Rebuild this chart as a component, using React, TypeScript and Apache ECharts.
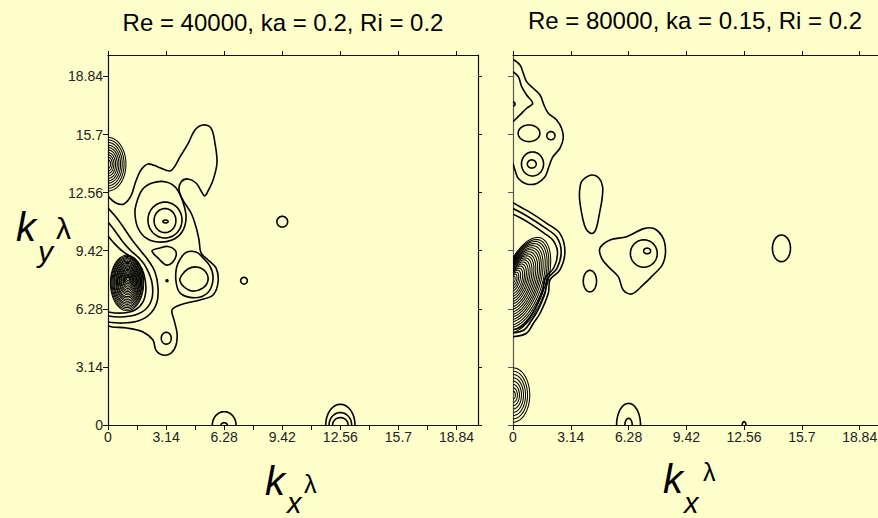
import { useEffect, useRef } from "react";
import * as echarts from "echarts";

type Pt = [number, number];

// ---------- ticks ----------
const majorTicks = [0, 3.14, 6.28, 9.42, 12.56, 15.7, 18.84];
const minorTicks = [0, 1.57, 3.14, 4.71, 6.28, 7.85, 9.42, 10.99, 12.56, 14.13, 15.7, 17.27, 18.84];
const tickLabels = ["0", "3.14", "6.28", "9.42", "12.56", "15.7", "18.84"];

const leftTitle = "Re = 40000, ka = 0.2, Ri = 0.2";
const rightTitle = "Re = 80000, ka = 0.15, Ri = 0.2";

// ---------- left panel contours (data units) ----------
const leftOuterContour: Pt[] = [
  [0, 12.38], [0.43, 12.0], [0.86, 11.95], [1.24, 12.38], [1.51, 13.19], [1.78, 13.78], [2.16, 14.11],
  [2.7, 13.95], [3.35, 13.73], [3.62, 14.0], [3.89, 14.49], [4.32, 15.19], [4.7, 15.95], [5.14, 16.22],
  [5.57, 16.05], [5.78, 15.24], [5.89, 14.16], [5.68, 13.24], [5.41, 12.65], [5.22, 12.38], [5.03, 12.65],
  [4.76, 13.08], [4.32, 13.3], [3.95, 13.14], [3.84, 12.7], [4.05, 12.16], [4.49, 11.46], [4.76, 10.7],
  [4.92, 10.0], [5.03, 9.3], [5.41, 8.92], [5.84, 8.49], [5.95, 7.73], [5.68, 7.03], [4.97, 6.76],
  [3.89, 6.49], [3.46, 6.22], [3.57, 5.68], [3.73, 4.97], [3.68, 4.32], [3.41, 3.89], [2.97, 3.78],
  [2.59, 4.05], [2.43, 4.59], [1.89, 5.03], [1.03, 5.24], [0.22, 5.3], [0, 5.35],
];
const leftPeakRing: Pt[] = [
  [1.51, 11.89], [1.84, 12.7], [2.38, 13.08], [3.14, 13.14], [3.68, 12.81], [4.05, 12.05], [4.22, 11.19],
  [4.0, 10.43], [3.46, 10.0], [2.7, 9.89], [2.05, 10.11], [1.62, 10.65], [1.46, 11.35],
];
const leftTriangleLoop: Pt[] = [
  [2.38, 9.41], [2.81, 9.57], [3.24, 9.65], [3.62, 9.46], [3.68, 9.14], [3.46, 8.76], [3.14, 8.65], [2.76, 8.97],
];
const leftEastLoop: Pt[] = [
  [3.95, 8.05], [4.32, 8.43], [4.81, 8.54], [5.24, 8.32], [5.41, 7.84], [5.14, 7.41], [4.54, 7.24], [4.11, 7.46], [3.89, 7.78],
];
const leftEastRing: Pt[] = [
  [3.92, 9.0], [4.22, 9.33], [4.76, 9.35], [5.14, 9.03], [5.51, 8.59], [5.68, 8.0], [5.51, 7.3],
  [5.08, 6.95], [4.43, 6.9], [3.89, 7.14], [3.68, 7.73], [3.7, 8.49],
];
const leftClusterArcs: Pt[][] = [
  [[0, 11.73], [0.43, 11.24], [0.86, 10.65], [1.3, 10.0], [1.73, 9.46], [2.16, 8.92], [2.54, 8.27], [2.7, 7.46],
   [2.65, 6.65], [2.27, 6.0], [1.62, 5.62], [0.76, 5.51], [0, 5.57]],
  [[0, 10.97], [0.38, 10.49], [0.81, 9.89], [1.24, 9.41], [1.73, 8.97], [2.11, 8.43], [2.38, 7.68], [2.38, 6.86],
   [2.05, 6.27], [1.46, 5.95], [0.65, 5.84], [0, 5.89]],
  [[0, 10.22], [0.32, 9.84], [0.76, 9.41], [1.24, 9.08], [1.68, 8.7], [1.95, 8.11], [2.05, 7.35], [1.89, 6.65],
   [1.46, 6.22], [0.76, 6.05], [0, 6.11]],
];
const leftCoreCx = [1.03, 1.03, 1.03, 1.04, 1.04, 1.04, 1.05, 1.05, 1.05, 1.05, 1.06, 1.06, 1.06, 1.06, 1.07, 1.07, 1.07, 1.07, 1.08, 1.08];
const leftCoreCy = [7.68, 7.69, 7.7, 7.71, 7.72, 7.73, 7.74, 7.75, 7.76, 7.77, 7.79, 7.8, 7.81, 7.82, 7.83, 7.84, 7.85, 7.86, 7.87, 7.89];
const leftCoreRx = [0.9, 0.86, 0.81, 0.77, 0.72, 0.68, 0.63, 0.59, 0.54, 0.5, 0.45, 0.41, 0.36, 0.32, 0.27, 0.23, 0.18, 0.14, 0.1, 0.06];
const leftCoreRy = [1.5, 1.43, 1.35, 1.28, 1.2, 1.13, 1.05, 0.98, 0.9, 0.83, 0.75, 0.68, 0.6, 0.53, 0.45, 0.38, 0.3, 0.23, 0.16, 0.09];
const leftLobeCy = 14.1;
const leftLobeRx = [0.97, 0.87, 0.77, 0.68, 0.59, 0.5, 0.41, 0.32, 0.23, 0.14];
const leftLobeRy = [1.45, 1.31, 1.17, 1.03, 0.9, 0.77, 0.63, 0.5, 0.37, 0.23];
// [cx, cy, rx, ry]
const leftSmallLoops: number[][] = [
  [3.08, 11.08, 0.92, 0.97], [3.08, 11.05, 0.59, 0.65], [3.11, 11.0, 0.14, 0.08],
  [3.19, 7.8, 0.05, 0.05], [3.15, 4.69, 0.27, 0.32], [7.35, 7.8, 0.18, 0.18], [9.42, 10.99, 0.29, 0.29],
  [6.28, 0, 0.64, 0.72], [6.28, 0, 0.17, 0.12],
  [12.56, 0, 0.79, 1.12], [12.56, 0, 0.61, 0.67], [12.56, 0, 0.42, 0.4],
];

// ---------- right panel contours ----------
const rightUpperArc: Pt[] = [
  [0, 19.77], [0.38, 19.46], [0.56, 19.01], [0.74, 18.56], [1.1, 18.2], [1.47, 17.84], [1.68, 17.3], [1.92, 16.85],
  [2.37, 16.49], [2.64, 16.04], [2.73, 15.5], [2.55, 14.96], [2.15, 14.47], [1.95, 13.96], [1.74, 13.42],
  [1.29, 13.06], [0.74, 13.03], [0.29, 13.33], [0.11, 13.77], [0, 14.14],
];
const rightUpperLobe: Pt[] = [
  [0, 19.1], [0.29, 18.83], [0.47, 18.29], [0.74, 17.84], [1.07, 17.39], [0.74, 17.12], [0.38, 16.76], [0, 16.39],
];
const rightTallLoop: Pt[] = [
  [4.27, 13.51], [4.67, 13.35], [4.87, 12.88], [4.83, 12.16], [4.7, 11.44], [4.53, 10.65], [4.33, 10.36],
  [4.04, 10.49], [3.88, 10.81], [3.72, 11.51], [3.61, 12.34], [3.66, 12.97], [3.79, 13.24],
];
const rightEastBlob: Pt[] = [
  [4.72, 9.55], [5.27, 10.0], [6.17, 10.18], [7.17, 10.63], [7.8, 10.54], [8.25, 9.82], [8.16, 8.74],
  [7.53, 8.02], [7.07, 7.57], [6.45, 7.08], [5.99, 7.3], [5.72, 8.02], [5.18, 8.56], [4.82, 9.01],
];
const rightClusterArcs: Pt[][] = [
  [[0, 12.02], [0.38, 11.8], [1.02, 11.44], [1.83, 10.9], [2.55, 10.36], [2.82, 9.37], [2.55, 8.38], [2.01, 7.84],
   [1.92, 7.12], [1.47, 6.04], [1.11, 5.5], [0.74, 4.96], [0, 4.77]],
  [[0, 11.7], [0.4, 11.5], [1.0, 11.15], [1.75, 10.65], [2.38, 10.15], [2.62, 9.35], [2.38, 8.45], [1.88, 7.9],
   [1.75, 7.15], [1.33, 6.15], [1.0, 5.65], [0.62, 5.15], [0, 4.97]],
  [[0, 11.4], [0.4, 11.2], [0.98, 10.86], [1.65, 10.4], [2.2, 9.95], [2.42, 9.3], [2.22, 8.5], [1.75, 7.95],
   [1.6, 7.2], [1.2, 6.28], [0.9, 5.8], [0.5, 5.33], [0, 5.15]],
];
const rightCoreCx = [0.6, 0.57, 0.54, 0.51, 0.47, 0.44, 0.41, 0.38, 0.35, 0.32, 0.28, 0.25, 0.22, 0.19, 0.16, 0.13, 0.09, 0.06, 0.03, 0.0];
const rightCoreCy = [7.57, 7.58, 7.6, 7.61, 7.63, 7.64, 7.66, 7.67, 7.68, 7.7, 7.71, 7.73, 7.74, 7.75, 7.77, 7.78, 7.8, 7.81, 7.83, 7.84];
const rightCoreRy = [2.7, 2.57, 2.44, 2.31, 2.17, 2.04, 1.91, 1.78, 1.65, 1.52, 1.39, 1.26, 1.13, 1.0, 0.86, 0.73, 0.6, 0.47, 0.34, 0.21];
const rightCoreRx = [1.19, 1.13, 1.08, 1.02, 0.96, 0.9, 0.85, 0.79, 0.73, 0.67, 0.62, 0.56, 0.5, 0.44, 0.39, 0.33, 0.27, 0.21, 0.16, 0.1];
const rightCoreTilt = 20;
const rightLowLobeCy = 1.62;
const rightLowLobeRx = [0.91, 0.79, 0.68, 0.57, 0.46, 0.35, 0.24, 0.13];
const rightLowLobeRy = [1.47, 1.29, 1.11, 0.93, 0.75, 0.57, 0.39, 0.21];
const rightSmallLoops: number[][] = [
  [0, 17.35, 0.11, 0.11], [0.87, 15.77, 0.59, 0.45], [2.06, 15.64, 0.22, 0.22], [1.06, 14.11, 0.6, 0.65],
  [1.02, 14.11, 0.24, 0.22], [4.18, 7.78, 0.36, 0.58], [7.11, 9.27, 0.73, 0.74], [7.29, 9.41, 0.19, 0.15],
  [14.59, 9.55, 0.49, 0.72], [6.28, 0, 0.65, 1.17], [6.28, 0, 0.2, 0.36], [12.56, 0, 0.1, 0.18],
];

// ---------- shape building ----------
type Shape =
  | { kind: "poly"; pts: Pt[]; closed: boolean; w: number }
  | { kind: "ell"; cx: number; cy: number; rx: number; ry: number; rot: number; w: number };

const LW = 1.6;
const LW_DENSE = 1.05;
const open = (pts: Pt[]): Shape => ({ kind: "poly", pts, closed: false, w: LW });
const closed = (pts: Pt[]): Shape => ({ kind: "poly", pts, closed: true, w: LW });
const ell = (cx: number, cy: number, rx: number, ry: number, rot: number, w: number): Shape => ({
  kind: "ell", cx, cy, rx, ry, rot, w,
});

const leftShapes: Shape[] = [
  open(leftOuterContour),
  closed(leftPeakRing),
  closed(leftTriangleLoop),
  closed(leftEastLoop),
  closed(leftEastRing),
  ...leftClusterArcs.map(open),
  ...leftCoreCx.map((cx, i) => ell(cx, leftCoreCy[i], leftCoreRx[i], leftCoreRy[i], 0, LW_DENSE)),
  ...leftLobeRx.map((rx, i) => ell(0, leftLobeCy, rx, leftLobeRy[i], 0, LW_DENSE)),
  ...leftSmallLoops.map(([cx, cy, rx, ry]) => ell(cx, cy, rx, ry, 0, LW)),
];

const rightShapes: Shape[] = [
  open(rightUpperArc),
  open(rightUpperLobe),
  closed(rightTallLoop),
  closed(rightEastBlob),
  ...rightClusterArcs.map(open),
  ...rightCoreCx.map((cx, i) => ell(cx, rightCoreCy[i], rightCoreRx[i], rightCoreRy[i], rightCoreTilt, LW_DENSE)),
  ...rightLowLobeRx.map((rx, i) => ell(0, rightLowLobeCy, rx, rightLowLobeRy[i], 0, LW_DENSE)),
  ...rightSmallLoops.map(([cx, cy, rx, ry]) => ell(cx, cy, rx, ry, 0, LW)),
];

const makeRender = (shapes: Shape[]) => (params: any, api: any) => {
  const s = shapes[params.dataIndex];
  const style = { fill: "none", stroke: "#000", lineWidth: s.w };
  if (s.kind === "ell") {
    const n = 72;
    const phi = (s.rot * Math.PI) / 180;
    const c = Math.cos(phi);
    const sn = Math.sin(phi);
    const pts: number[][] = [];
    for (let k = 0; k < n; k++) {
      const t = (2 * Math.PI * k) / n;
      const dx = s.rx * Math.cos(t);
      const dy = s.ry * Math.sin(t);
      pts.push(api.coord([s.cx + dx * c + dy * sn, s.cy - dx * sn + dy * c]));
    }
    return { type: "polygon", shape: { points: pts }, style };
  }
  const pts = s.pts.map((p) => api.coord(p));
  return {
    type: s.closed ? "polygon" : "polyline",
    shape: { points: pts, smooth: 0.35 },
    style,
  };
};

const FONT = "'Liberation Sans', Arial, Helvetica, sans-serif";
const labelFmt = (v: number) => {
  const i = majorTicks.findIndex((m) => Math.abs(m - v) < 1e-6);
  return i >= 0 ? tickLabels[i] : "";
};

const axisBase = (gridIndex: number, position: string, ticks: number[], tickLen: number, labels: boolean, color = "#111") => ({
  type: "value",
  gridIndex,
  position,
  min: 0,
  max: 20,
  splitLine: { show: false },
  axisLine: { show: true, onZero: false, lineStyle: { color, width: 1.2 } },
  axisTick: { show: true, inside: false, length: tickLen, customValues: ticks, lineStyle: { color, width: 1 } },
  axisLabel: labels
    ? { show: true, customValues: majorTicks, formatter: labelFmt, color: "#222", fontSize: 14, fontFamily: FONT, margin: 5 }
    : { show: false },
});

export default function App() {
  const ref = useRef<HTMLDivElement>(null);
  useEffect(() => {
    if (!ref.current) return;
    const chart = echarts.init(ref.current, undefined, { renderer: "svg" });
    const txt = (text: string, x: number, y: number, size: number, italic = false, align = "left") => ({
      type: "text",
      x,
      y,
      style: {
        text,
        fill: "#000",
        fontSize: size,
        fontFamily: FONT,
        fontStyle: italic ? "italic" : "normal",
        align,
        verticalAlign: "middle",
      },
    });
    chart.setOption({
      animation: false,
      backgroundColor: "#FFFFCC",
      grid: [
        { left: 108, top: 55, width: 370, height: 370, outerBoundsMode: "none" },
        { left: 513, top: 55, width: 368, height: 370, outerBoundsMode: "none" },
      ],
      xAxis: [
        axisBase(0, "bottom", minorTicks, 5, true),
        axisBase(0, "top", majorTicks, 4, false),
        axisBase(1, "bottom", majorTicks, 5, true),
        axisBase(1, "top", majorTicks, 4, false),
      ],
      yAxis: [
        axisBase(0, "left", majorTicks, 5, true),
        axisBase(0, "right", majorTicks, 4, false),
        axisBase(1, "left", majorTicks, 5, false, "#555"),
      ],
      series: [
        {
          type: "custom",
          xAxisIndex: 0,
          yAxisIndex: 0,
          clip: true,
          renderItem: makeRender(leftShapes),
          data: leftShapes.map((s) => (s.kind === "ell" ? [s.cx, s.cy] : s.pts[0])),
          silent: true,
        },
        {
          type: "custom",
          xAxisIndex: 2,
          yAxisIndex: 2,
          clip: true,
          renderItem: makeRender(rightShapes),
          data: rightShapes.map((s) => (s.kind === "ell" ? [s.cx, s.cy] : s.pts[0])),
          silent: true,
        },
      ],
      graphic: [
        txt(leftTitle, 283, 22, 24, false, "center"),
        txt(rightTitle, 695, 20, 24, false, "center"),
        txt("k", 16, 227, 40, true),
        txt("y", 38, 251, 30, true),
        txt("λ", 56, 228, 30),
        txt("k", 265, 481, 40, true),
        txt("x", 287, 503, 29, true),
        txt("λ", 304, 484, 25),
        txt("k", 663, 479, 40, true),
        txt("x", 684, 503, 29, true),
        txt("λ", 703, 472, 25),
      ],
    });
    return () => chart.dispose();
  }, []);
  return (
    <div
      ref={ref}
      style={{ position: "fixed", left: 0, top: 0, width: 878, height: 518, background: "#FFFFCC" }}
    />
  );
}
